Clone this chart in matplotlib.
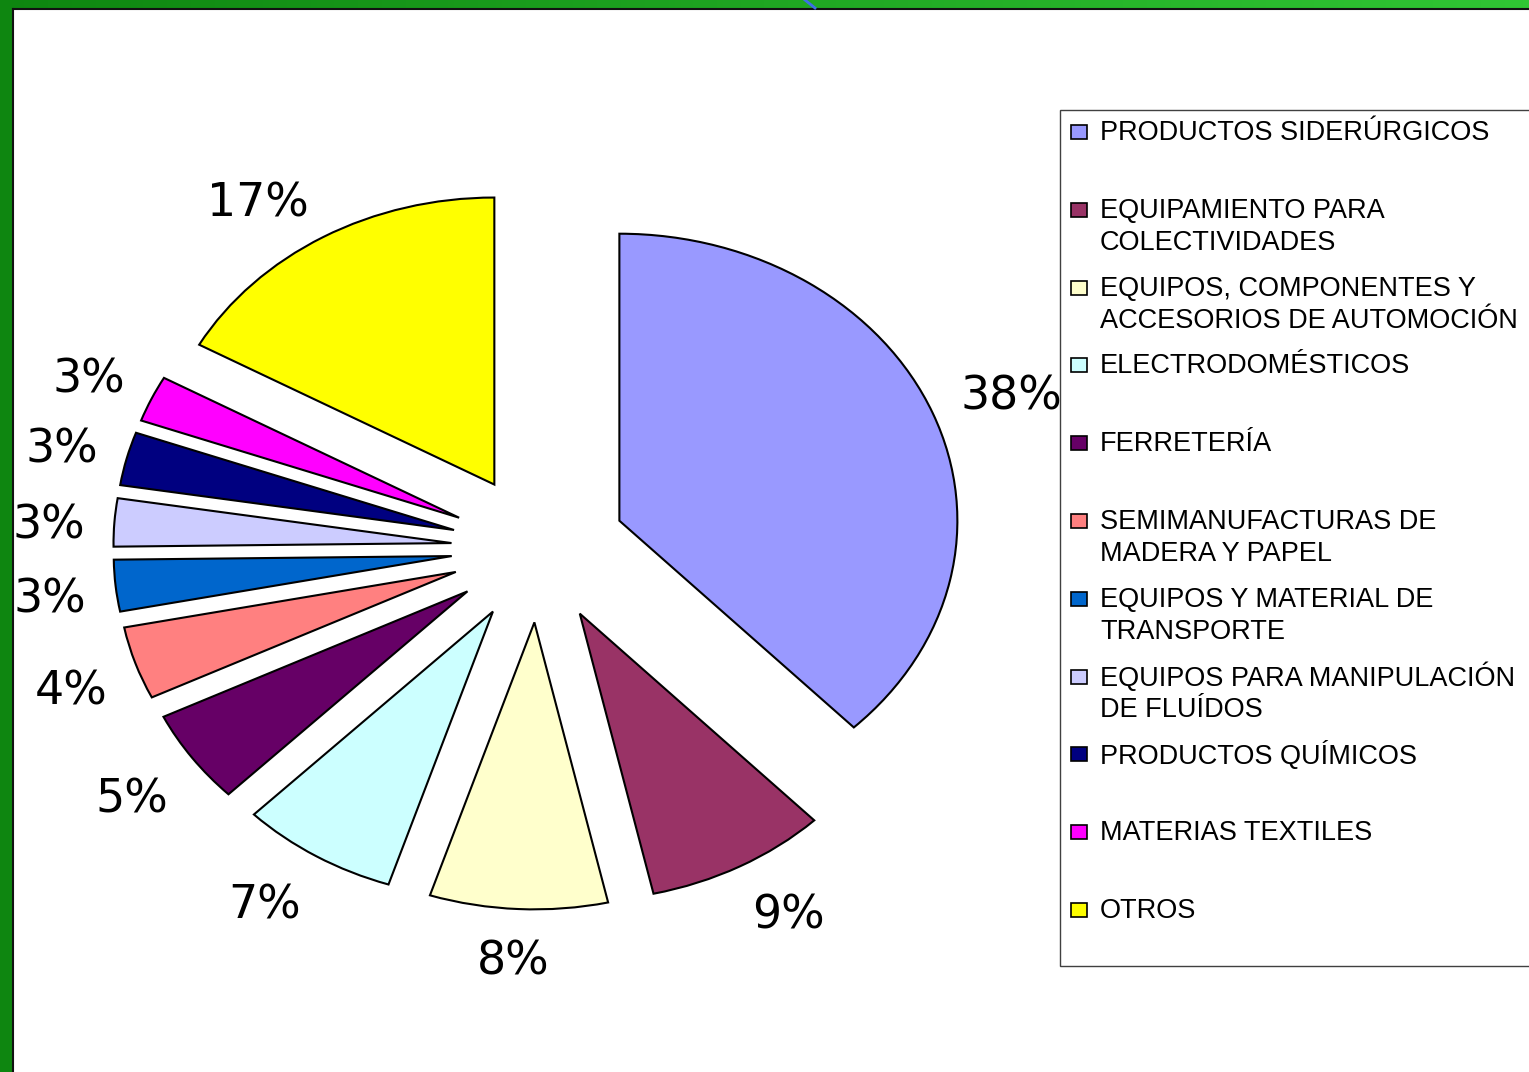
import matplotlib
matplotlib.use('Agg')
import matplotlib.pyplot as plt
import numpy as np
from matplotlib.patches import Rectangle
from matplotlib.colors import LinearSegmentedColormap

categories = [
    'PRODUCTOS SIDERÚRGICOS',
    'EQUIPAMIENTO PARA\nCOLECTIVIDADES',
    'EQUIPOS, COMPONENTES Y\nACCESORIOS DE AUTOMOCIÓN',
    'ELECTRODOMÉSTICOS',
    'FERRETERÍA',
    'SEMIMANUFACTURAS DE\nMADERA Y PAPEL',
    'EQUIPOS Y MATERIAL DE\nTRANSPORTE',
    'EQUIPOS PARA MANIPULACIÓN\nDE FLUÍDOS',
    'PRODUCTOS QUÍMICOS',
    'MATERIAS TEXTILES',
    'OTROS',
]
shares = [37.8, 8.7, 8.5, 7.5, 5.3, 4.1, 2.9, 2.7, 3.0, 2.6, 16.9]
pct_labels = ['38%', '9%', '8%', '7%', '5%', '4%', '3%', '3%', '3%', '3%', '17%']
colors = ['#9999FF', '#993366', '#FFFFCC', '#CCFFFF', '#660066', '#FF8080',
          '#0066CC', '#CCCCFF', '#000080', '#FF00FF', '#FFFF00']

plt.rcParams['font.family'] = ['Liberation Sans', 'DejaVu Sans']

W, H = 1529, 1072
fig = plt.figure(figsize=(W / 100, H / 100), dpi=100)

# pie axes: stretched horizontally like the original slide
cx, cy, sx, sy = 538.5, 548.4, 338, 287
ax = fig.add_axes([0, 0, 1, 1])
wedges, _ = ax.pie(shares, explode=[0.258] * len(shares), colors=colors,
                   startangle=90, counterclock=False,
                   wedgeprops=dict(edgecolor='black', linewidth=1.5))
ax.set_aspect('auto')
ax.set_xlim(-cx / sx, (W - cx) / sx)
ax.set_ylim((cy - H) / sy, cy / sy)
ax.axis('off')

# percentage labels outside each slice
D = 1.345
renderer = fig.canvas.get_renderer()
for w, lab in zip(wedges, pct_labels):
    mid = np.deg2rad((w.theta1 + w.theta2) / 2)
    c, s = np.cos(mid), np.sin(mid)
    t = ax.annotate(lab, xy=(D * c, D * s), xytext=(0, 0),
                    textcoords='offset points', fontsize=33,
                    family='DejaVu Sans',
                    ha='center', va='center_baseline')
    bb = t.get_window_extent(renderer)
    hw = bb.width / 2
    hh = 20
    dx = hw * np.clip(2 * c, -1, 1)
    dy = hh * np.clip(2 * s, -1, 1) - 3
    t.xyann = (dx * 0.72, dy * 0.72)

# overlay in pixel coords: border and legend
ov = fig.add_axes([0, 0, 1, 1], zorder=2)
ov.patch.set_alpha(0)
green = LinearSegmentedColormap.from_list('g', ['#0e8610', '#30c634'])
ov.imshow(np.linspace(0, 1, 256)[None, :], extent=(0, W, 8, 0), cmap=green,
          aspect='auto')
ov.add_patch(Rectangle((0, 0), 12, H, color='#0e8610', lw=0))
ov.plot([13, 13], [9, H], color='#111111', lw=1.5)
ov.plot([13, W], [9, 9], color='#111111', lw=1.5)
ov.plot([805, 815], [0, 8], color='#3d6ee8', lw=2)

ov.add_patch(Rectangle((1060, 110), 520, 856, facecolor='white',
                       edgecolor='#404040', lw=1))
for i, (lab, col) in enumerate(zip(categories, colors)):
    y = 132 + i * 77.8
    ov.add_patch(Rectangle((1071, y - 7), 16, 14, facecolor=col,
                           edgecolor='black', lw=1.2))
    for j, line in enumerate(lab.split('\n')):
        ov.text(1100, y + 1 + 32 * j, line, fontsize=19.5, va='center', ha='left')

ov.set_xlim(0, W)
ov.set_ylim(H, 0)
ov.axis('off')

fig.savefig('out.png', dpi=100)
